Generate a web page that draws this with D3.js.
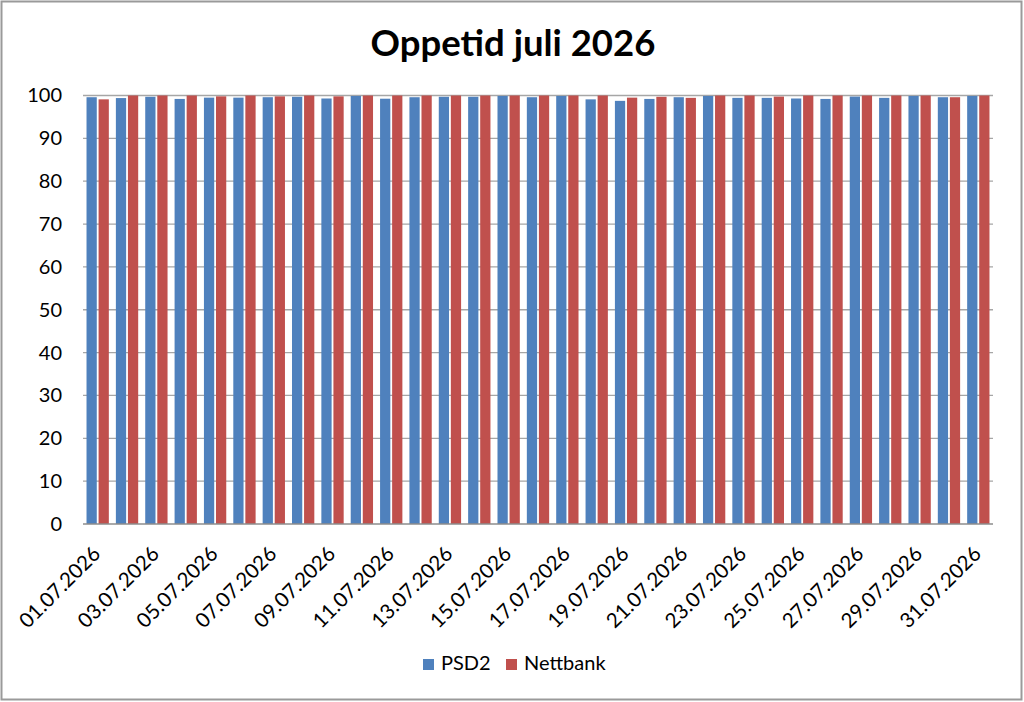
<!DOCTYPE html>
<html>
<head>
<meta charset="utf-8">
<script src="https://cdn.jsdelivr.net/npm/d3@7"></script>
<style>
  body { margin: 0; background: #fff; }
  text { font-family: Lato, "Open Sans", sans-serif; fill: #000; }
</style>
</head>
<body>
<div class="canvas"></div>
<script>
// data
const days = d3.range(1, 32).map(d => String(d).padStart(2, '0') + '.07.2026');
const psd2 = [99.6, 99.4, 99.7, 99.2, 99.5, 99.5, 99.6, 99.7, 99.3, 99.9,
              99.25, 99.6, 99.7, 99.7, 99.9, 99.6, 99.9, 99.1, 98.75, 99.2,
              99.6, 99.9, 99.45, 99.45, 99.3, 99.2, 99.75, 99.45, 99.9, 99.6, 99.9];
const nettbank = [99.1, 100, 100, 100, 99.8, 100, 99.8, 100, 99.8, 100,
                  100, 100, 100, 100, 100, 100, 100, 100, 99.5, 99.7,
                  99.45, 100, 100, 99.75, 100, 100, 100, 100, 100, 99.6, 100];
const seriesNames = ['PSD2', 'Nettbank'];
const colors = ['#4f81bd', '#c0504d'];
const yTicks = [0, 10, 20, 30, 40, 50, 60, 70, 80, 90, 100];

const width = 1024, height = 702;

const svg = d3.select('.canvas')
  .append('svg')
  .attr('width', width)
  .attr('height', height);

// outer frame
svg.append('rect')
  .attr('x', 1.5).attr('y', 1.5)
  .attr('width', width - 4).attr('height', height - 4)
  .attr('fill', '#fff')
  .attr('stroke', '#9a9a9a')
  .attr('stroke-width', 2);

const margin = { top: 95.5, left: 83, right: 31, bottom: 178 };
const graphWidth = width - margin.left - margin.right;
const graphHeight = height - margin.top - margin.bottom;

const graph = svg.append('g')
  .attr('transform', `translate(${margin.left}, ${margin.top})`);

const y = d3.scaleLinear().domain([0, 100]).range([graphHeight, 0]);

const x = d3.scaleBand()
  .domain(days)
  .range([0, graphWidth])
  .paddingInner(0.24)
  .paddingOuter(0.12);

const x1 = d3.scaleBand()
  .domain(seriesNames)
  .range([0, x.bandwidth()])
  .paddingInner(0.15);

// gridlines
graph.append('g')
  .selectAll('line')
  .data(yTicks.filter(d => d > 0))
  .enter()
  .append('line')
  .attr('x1', 0).attr('x2', graphWidth)
  .attr('y1', d => y(d)).attr('y2', d => y(d))
  .attr('stroke', '#a6a6a6')
  .attr('stroke-width', 1.3);

// y axis labels
const yAxis = d3.axisLeft(y).tickValues(yTicks).tickSize(0).tickPadding(21);
const yAxisGroup = graph.append('g').call(yAxis);
yAxisGroup.select('.domain').remove();
yAxisGroup.selectAll('text')
  .style('font-size', '20px')
  .style('font-family', 'Lato, sans-serif');

// bars
const rows = days.map((d, i) => ({ day: d, values: [psd2[i], nettbank[i]] }));

const groups = graph.selectAll('g.day')
  .data(rows)
  .enter()
  .append('g')
  .attr('class', 'day')
  .attr('transform', d => `translate(${x(d.day)},0)`);

groups.selectAll('rect')
  .data(d => d.values.map((v, k) => ({ name: seriesNames[k], v, k })))
  .enter()
  .append('rect')
  .attr('x', d => x1(d.name))
  .attr('y', d => y(d.v))
  .attr('width', x1.bandwidth())
  .attr('height', d => graphHeight - y(d.v))
  .attr('fill', d => colors[d.k]);

// baseline
graph.append('line')
  .attr('x1', 0).attr('x2', graphWidth)
  .attr('y1', graphHeight).attr('y2', graphHeight)
  .attr('stroke', '#8c8c8c')
  .attr('stroke-width', 1.5);

// x axis labels, every second day
const xAxis = d3.axisBottom(x)
  .tickValues(days.filter((d, i) => i % 2 === 0))
  .tickSize(0)
  .tickPadding(0);
const xAxisGroup = graph.append('g')
  .attr('transform', `translate(0, ${graphHeight})`)
  .call(xAxis);
xAxisGroup.select('.domain').remove();
xAxisGroup.selectAll('text')
  .style('font-size', '20.5px')
  .style('font-family', 'Lato, sans-serif')
  .attr('text-anchor', 'end')
  .attr('dy', '0.35em')
  .attr('transform', 'translate(-1,26) rotate(-45)');

// title
svg.append('text')
  .attr('x', 513)
  .attr('y', 56)
  .attr('text-anchor', 'middle')
  .style('font-size', '36.5px')
  .style('font-weight', 'bold')
  .text('Oppetid juli 2026');

// legend
const legend = svg.append('g').attr('transform', 'translate(423, 659)');
const legendX = [0, 83];
seriesNames.forEach((name, k) => {
  legend.append('rect')
    .attr('x', legendX[k]).attr('y', 0)
    .attr('width', 11).attr('height', 11)
    .attr('fill', colors[k]);
  legend.append('text')
    .attr('x', legendX[k] + 18).attr('y', 11)
    .style('font-size', '20px')
    .text(name);
});
</script>
</body>
</html>
